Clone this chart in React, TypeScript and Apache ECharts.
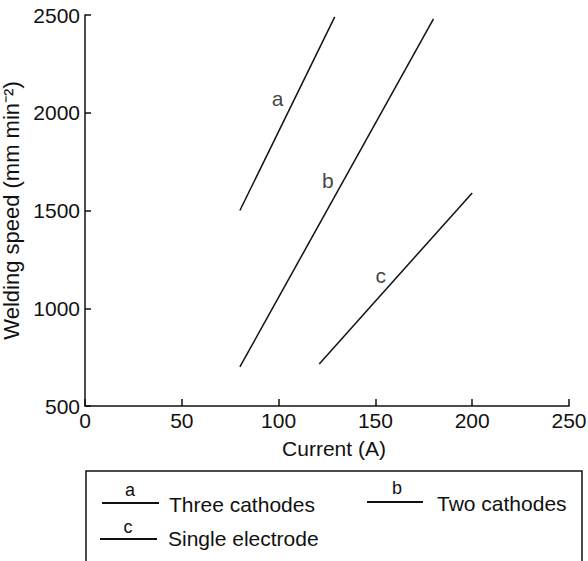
import React, { useEffect, useRef } from "react";
import * as echarts from "echarts";

const seriesA: [number, number][] = [[80, 1500], [129, 2490]];
const seriesB: [number, number][] = [[80, 700], [180, 2480]];
const seriesC: [number, number][] = [[121, 715], [200, 1590]];
const lineLabels: { name: string; value: [number, number] }[] = [
  { name: "a", value: [99.5, 2075] },
  { name: "b", value: [125.5, 1656] },
  { name: "c", value: [152.8, 1170] },
];
const legendItems = [
  { key: "a", text: "Three cathodes" },
  { key: "b", text: "Two cathodes" },
  { key: "c", text: "Single electrode" },
];
const xTitle = "Current (A)";
const yTitle = "Welding speed (mm min\u207B\u00B2)";

const FONT = "Liberation Sans, Arial, Helvetica, sans-serif";
const INK = "#111111";
const FS = 21;

export default function App() {
  const ref = useRef<HTMLDivElement>(null);
  useEffect(() => {
    if (!ref.current) return;
    const chart = echarts.init(ref.current, null, { renderer: "svg" });
    const lineSeries = (name: string, data: [number, number][]) => ({
      name,
      type: "line",
      data,
      symbol: "none",
      lineStyle: { color: INK, width: 1.5 },
      silent: true,
    });
    const legendPos = [
      { lx1: 102, lx2: 159, ly: 503, kx: 130, ky: 490, tx: 169, ty: 504 },
      { lx1: 367, lx2: 423, ly: 502, kx: 397, ky: 488, tx: 437, ty: 503 },
      { lx1: 100, lx2: 157, ly: 539, kx: 128, ky: 527, tx: 168, ty: 538 },
    ];
    const graphics: any[] = [
      {
        type: "rect",
        shape: { x: 86, y: 471, width: 496, height: 140 },
        style: { fill: "none", stroke: INK, lineWidth: 1.5 },
      },
    ];
    legendItems.forEach((it, i) => {
      const p = legendPos[i];
      graphics.push({
        type: "line",
        shape: { x1: p.lx1, y1: p.ly, x2: p.lx2, y2: p.ly },
        style: { stroke: INK, lineWidth: 2.2 },
      });
      graphics.push({
        type: "text",
        x: p.kx,
        y: p.ky,
        style: { text: it.key, fill: INK, font: `18px ${FONT}`, align: "center", verticalAlign: "middle" },
      });
      graphics.push({
        type: "text",
        x: p.tx,
        y: p.ty,
        style: { text: it.text, fill: INK, font: `${FS}px ${FONT}`, align: "left", verticalAlign: "middle" },
      });
    });
    chart.setOption({
      animation: false,
      textStyle: { fontFamily: FONT, color: INK },
      grid: { left: 85, right: 19, top: 15, bottom: 155, containLabel: false, outerBoundsMode: "none" },
      xAxis: {
        type: "value",
        min: 0,
        max: 250,
        interval: 50,
        name: xTitle,
        nameLocation: "middle",
        nameGap: 32,
        nameTextStyle: { fontSize: FS, color: INK, fontFamily: FONT, padding: [0, 0, 0, 14] },
        axisLine: { show: true, onZero: false, lineStyle: { color: INK, width: 1.5 } },
        axisTick: { show: true, inside: true, length: 7, lineStyle: { color: INK, width: 1.5 } },
        axisLabel: { fontSize: FS, color: INK, fontFamily: FONT, margin: 4, formatter: (v: number) => String(v) },
        splitLine: { show: false },
      },
      yAxis: {
        type: "value",
        min: 500,
        max: 2500,
        interval: 500,
        name: yTitle,
        nameLocation: "middle",
        nameGap: 59,
        nameTextStyle: { fontSize: 22, color: INK, fontFamily: FONT },
        axisLine: { show: true, onZero: false, lineStyle: { color: INK, width: 1.5 } },
        axisTick: { show: true, inside: true, length: 6, lineStyle: { color: INK, width: 1.5 } },
        axisLabel: { fontSize: FS, color: INK, fontFamily: FONT, margin: 5, formatter: (v: number) => String(v) },
        splitLine: { show: false },
      },
      series: [
        lineSeries("a", seriesA),
        lineSeries("b", seriesB),
        lineSeries("c", seriesC),
        {
          type: "scatter",
          data: lineLabels,
          symbolSize: 0,
          silent: true,
          label: {
            show: true,
            position: "inside",
            formatter: "{b}",
            fontSize: FS,
            color: INK,
            fontFamily: FONT,
          },
        },
      ],
      graphic: graphics,
    });
    return () => chart.dispose();
  }, []);
  return <div ref={ref} style={{ width: 588, height: 561, position: "absolute", left: 0, top: 0 }} />;
}
